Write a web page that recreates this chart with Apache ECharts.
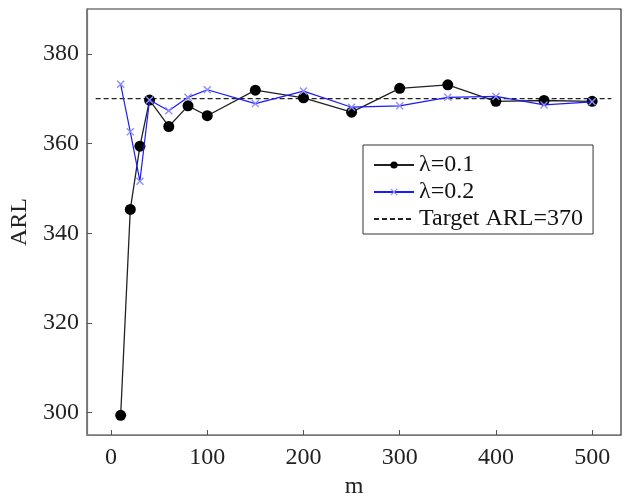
<!DOCTYPE html>
<html>
<head>
<meta charset="utf-8">
<script src="https://cdn.jsdelivr.net/npm/echarts@6/dist/echarts.min.js"></script>
<style>html,body{margin:0;padding:0;background:#fff}#c{width:625px;height:498px}</style>
</head>
<body>
<div id="c"></div>
<script>
const mValues = [10, 20, 30, 40, 60, 80, 100, 150, 200, 250, 300, 350, 400, 450, 500];
const arlLambda01 = [299.4, 345.3, 359.4, 369.7, 363.8, 368.4, 366.2, 371.9, 370.2, 367.0, 372.3, 373.1, 369.4, 369.6, 369.4];
const arlLambda02 = [373.2, 362.6, 351.6, 369.7, 367.3, 370.3, 372.0, 368.9, 371.7, 368.1, 368.4, 370.3, 370.5, 368.6, 369.3];
const targetX = [-16, 520];
const targetARL = 370;
const xTicks = [0, 100, 200, 300, 400, 500];
const yTicks = [300, 320, 340, 360, 380];
const seriesNames = ['λ=0.1', 'λ=0.2', 'Target ARL=370'];

const font = '"Liberation Serif", "Times New Roman", serif';
const chart = echarts.init(document.getElementById('c'), null, {renderer: 'canvas'});
const crossPath = 'path://M0,1.2L1.2,0L10,8.8L8.8,10Z M8.8,0L10,1.2L1.2,10L0,8.8Z';

chart.setOption({
  animation: false,
  backgroundColor: '#fff',
  grid: {left: 87, right: 4, top: 9, bottom: 63, outerBoundsMode: 'none', containLabel: false,
         show: true, borderColor: '#333', borderWidth: 1.2, backgroundColor: 'transparent'},
  xAxis: {
    type: 'value', min: -25, max: 530,
    name: 'm', nameLocation: 'middle', nameGap: 37,
    nameTextStyle: {fontFamily: font, fontSize: 24, color: '#222'},
    axisLine: {show: true, onZero: false, lineStyle: {color: '#777', width: 1.2}},
    axisTick: {show: true, inside: true, length: 5, customValues: xTicks, lineStyle: {color: '#555'}},
    axisLabel: {customValues: xTicks, fontFamily: font, fontSize: 24, color: '#222', margin: 11},
    splitLine: {show: false}
  },
  yAxis: {
    type: 'value', min: 295, max: 390,
    name: 'ARL', nameLocation: 'middle', nameGap: 43,
    nameTextStyle: {fontFamily: font, fontSize: 24, color: '#222'},
    axisLine: {show: true, onZero: false, lineStyle: {color: '#777', width: 1.2}},
    axisTick: {show: true, inside: true, length: 5, customValues: yTicks, lineStyle: {color: '#555'}},
    axisLabel: {customValues: yTicks, fontFamily: font, fontSize: 24, color: '#222', margin: 8},
    splitLine: {show: false}
  },
  legend: {
    orient: 'vertical', left: 363, top: 145,
    data: [
      {name: seriesNames[0]},
      {name: seriesNames[1]},
      {name: seriesNames[2], itemStyle: {opacity: 0}}
    ],
    backgroundColor: '#fff', borderColor: '#333', borderWidth: 1,
    padding: [8, 10, 3, 10], itemGap: 3, itemWidth: 40, itemHeight: 9,
    textStyle: {fontFamily: font, fontSize: 24, color: '#111'}
  },
  series: [
    {
      name: seriesNames[0], type: 'line',
      data: mValues.map((m, i) => [m, arlLambda01[i]]),
      symbol: 'circle', symbolSize: 11,
      lineStyle: {color: '#222', width: 1.3},
      itemStyle: {color: '#000'}, z: 3
    },
    {
      name: seriesNames[1], type: 'line',
      data: mValues.map((m, i) => [m, arlLambda02[i]]),
      symbol: crossPath, symbolSize: 8,
      lineStyle: {color: '#1a1aff', width: 1.2},
      itemStyle: {color: '#8c8cff'}, z: 4
    },
    {
      name: seriesNames[2], type: 'line',
      data: targetX.map(x => [x, targetARL]),
      symbol: 'none',
      lineStyle: {color: '#222', width: 1.3, type: [5, 3]},
      itemStyle: {color: '#222'}, z: 2
    }
  ]
});
</script>
</body>
</html>
